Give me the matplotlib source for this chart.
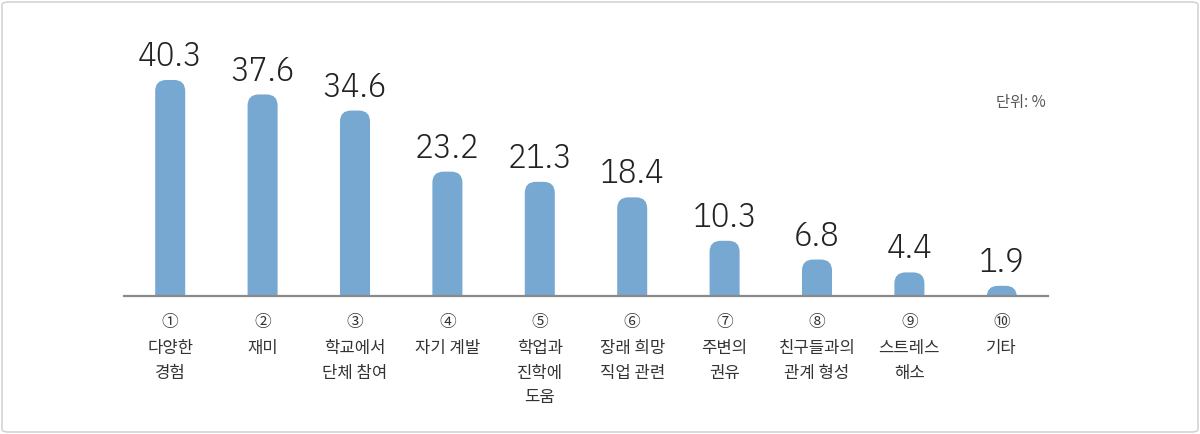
import matplotlib
matplotlib.use("Agg")
import matplotlib.pyplot as plt
from matplotlib.patches import FancyBboxPatch
from matplotlib import transforms

plt.rcParams['font.family'] = ['Noto Sans CJK KR', 'DejaVu Sans']

# data
markers = ['①', '②', '③', '④', '⑤', '⑥', '⑦', '⑧', '⑨', '⑩']
categories = ['다양한\n경험', '재미', '학교에서\n단체 참여', '자기 계발', '학업과\n진학에\n도움',
              '장래 희망\n직업 관련', '주변의\n권유', '친구들과의\n관계 형성', '스트레스\n해소', '기타']
values = [40.3, 37.6, 34.6, 23.2, 21.3, 18.4, 10.3, 6.8, 4.4, 1.9]
unit_label = '단위: %'

BAR_COLOR = '#76a8d2'
NUM_FONT = ['IBM Plex Sans Condensed', 'Roboto Condensed', 'DejaVu Sans']
W, H = 1200, 434

fig = plt.figure(figsize=(12, 4.34), dpi=100)
ax = fig.add_axes([124 / W, 138 / H, 924 / W, 268 / H])
ax.set_xlim(-0.5, len(values) - 0.5)
ax.set_ylim(0, 50)
ax.axis('off')

bar_w = 0.325
radius_x = 0.12
aspect = (50 / 268) / (10 / 924)  # data-y per pixel / data-x per pixel
for i, v in enumerate(values):
    # extend below zero so the bottom rounding is clipped away
    box = FancyBboxPatch((i - bar_w / 2, -3), bar_w, v + 3,
                         boxstyle=f"round,pad=0,rounding_size={radius_x}",
                         mutation_aspect=aspect,
                         facecolor=BAR_COLOR, edgecolor='none', zorder=2)
    ax.add_patch(box)
    ax.annotate(f'{v:.1f}', (i, v), xytext=(0, 5), textcoords='offset points',
                ha='center', va='bottom', fontsize=25, color='#222222',
                family=NUM_FONT, weight=300)

ax.axhline(0, color='#8a8a8a', lw=1.6, zorder=3, clip_on=False)

trans = transforms.blended_transform_factory(ax.transData, ax.transAxes)
for i, (m, c) in enumerate(zip(markers, categories)):
    ax.annotate(m, (i, 0), xycoords=trans, xytext=(0, -13), textcoords='offset points',
                ha='center', va='top', fontsize=12, color='#333333')
    ax.annotate(c, (i, 0), xycoords=trans, xytext=(0, -32), textcoords='offset points',
                ha='center', va='top', fontsize=12, color='#333333', linespacing=1.56)

fig.text(1021 / W, 1 - 102 / H, unit_label, ha='center', va='center',
         fontsize=11, color='#555555')

border = FancyBboxPatch((2 / W, 2 / H), 1 - 4 / W, 1 - 4 / H,
                        boxstyle="round,pad=0,rounding_size=0.006",
                        transform=fig.transFigure, facecolor='none',
                        edgecolor='#d4d4d4', lw=1.2)
fig.patches.append(border)

fig.savefig('out.png', dpi=100, facecolor='white')
